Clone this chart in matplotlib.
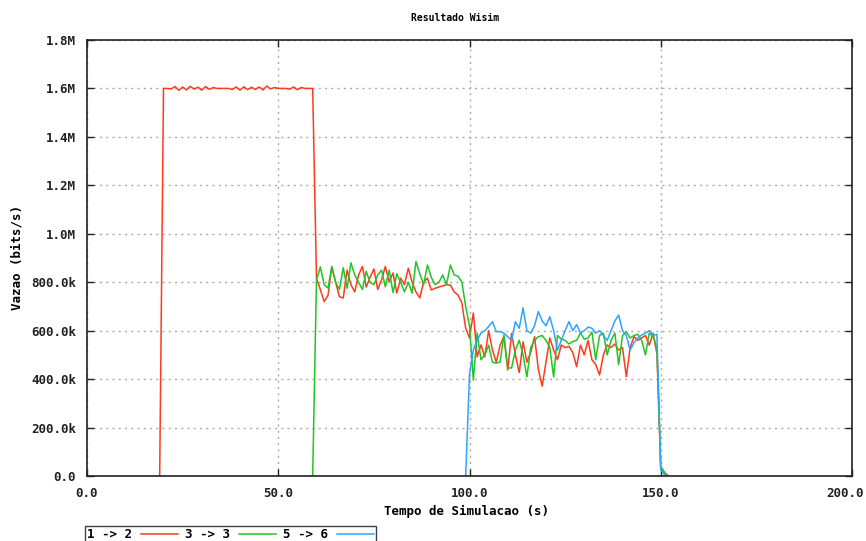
import numpy as np
import matplotlib
matplotlib.use("Agg")
import matplotlib.pyplot as plt
import matplotlib.transforms as mtransforms

# ---------------- data (kbit/s, 1 s sampling) ----------------
series_labels = ["1 -> 2", "3 -> 3", "5 -> 6"]
series_colors = ["#ff3a1e", "#22c522", "#2ea4ff"]

red_start = 19
red_vals = (
    [0]
    + [1600, 1600, 1598, 1608, 1592, 1606, 1594, 1609, 1597, 1605,
       1593, 1608, 1596, 1604, 1600, 1600, 1600, 1600, 1596, 1606,
       1593, 1607, 1595, 1605, 1596, 1606, 1594, 1610, 1598, 1604,
       1600, 1600, 1600, 1597, 1606, 1595, 1604, 1600, 1600, 1600]
    + [815, 770, 720, 745, 865, 800, 740, 735, 850, 790,
       760, 830, 865, 780, 820, 855, 770, 810, 865, 802,
       838, 755, 817, 790, 858, 800, 760, 735, 800, 817,
       768, 775, 780, 785, 790, 788, 760, 747, 714, 610]
    + [570, 673, 492, 541, 492, 600, 520, 470, 540, 575,
       438, 589, 500, 427, 554, 470, 510, 575, 440, 371,
       470, 570, 520, 480, 541, 530, 535, 510, 451, 540,
       500, 560, 480, 460, 417, 500, 541, 530, 545, 520,
       530, 410, 530, 575, 560, 570, 580, 540, 590, 505]
    + [30, 10, 0]
)

green_start = 59
green_vals = (
    [0]
    + [810, 863, 790, 776, 863, 800, 770, 860, 775, 880,
       830, 800, 770, 845, 800, 790, 830, 850, 781, 850,
       757, 835, 800, 760, 800, 755, 885, 835, 790, 871,
       820, 790, 800, 830, 790, 871, 830, 825, 800, 700]
    + [620, 396, 590, 480, 500, 540, 470, 466, 470, 582,
       446, 446, 520, 560, 500, 409, 530, 560, 575, 580,
       560, 530, 409, 580, 565, 560, 545, 555, 560, 590,
       565, 570, 595, 480, 580, 590, 500, 560, 590, 460,
       580, 595, 570, 580, 585, 560, 500, 590, 575, 530]
    + [40, 15, 0]
)

blue_start = 99
blue_vals = (
    [0]
    + [420, 520, 561, 590, 600, 617, 637, 596, 596, 590,
       575, 560, 637, 610, 694, 600, 590, 620, 679, 640,
       620, 658, 600, 520, 560, 600, 637, 600, 625, 590,
       600, 615, 610, 590, 600, 580, 560, 600, 640, 664,
       600, 580, 520, 550, 570, 582, 590, 600, 580, 585]
    + [25, 5, 0]
)

x_ticks = [0, 50, 100, 150, 200]
x_tick_labels = ["0.0", "50.0", "100.0", "150.0", "200.0"]
y_ticks = [0, 200e3, 400e3, 600e3, 800e3, 1.0e6, 1.2e6, 1.4e6, 1.6e6, 1.8e6]
y_tick_labels = ["0.0", "200.0k", "400.0k", "600.0k", "800.0k",
                 "1.0M", "1.2M", "1.4M", "1.6M", "1.8M"]

# ---------------- figure ----------------
W, H = 866, 541
fig = plt.figure(figsize=(W / 100, H / 100), dpi=100)
ax = fig.add_axes([87 / W, 1 - 476 / H, (852 - 87) / W, (476 - 40) / H])

mono = {"family": "DejaVu Sans Mono", "weight": "bold", "size": 9}
mono_small = {"family": "DejaVu Sans Mono", "weight": "bold", "size": 7}

handles = []
for start, vals, lab, col in zip([red_start, green_start, blue_start],
                                 [red_vals, green_vals, blue_vals],
                                 series_labels, series_colors):
    t = start + np.arange(len(vals))
    v = np.asarray(vals, dtype=float) * 1000.0
    ln, = ax.plot(t, v, color=col, lw=1.1, label=lab)
    handles.append(ln)

ax.set_xlim(0, 200)
ax.set_ylim(0, 1.8e6)
ax.set_xticks(x_ticks)
ax.set_xticklabels(x_tick_labels, fontdict=mono)
ax.set_yticks(y_ticks)
ax.set_yticklabels(y_tick_labels, fontdict=mono)
ax.tick_params(direction="in", length=5, width=1, top=True, right=True,
               pad=8, colors="#222222")
ax.grid(True, color="#aaaaaa", linestyle=(0, (1.5, 3)), linewidth=1)
for s in ax.spines.values():
    s.set_color("#222222")
    s.set_linewidth(1.2)

# keep the last x label inside the image, as in the reference
last = ax.get_xticklabels()[-1]
last.set_transform(last.get_transform() +
                   mtransforms.ScaledTranslation(-7 / 100, 0, fig.dpi_scale_trans))

fig.text(455 / W, 1 - 18 / H, "Resultado Wisim", ha="center", va="center",
         fontdict=mono_small)
fig.text(467 / W, 1 - 511 / H, "Tempo de Simulacao (s)", ha="center",
         va="center", fontdict=mono)
fig.text(17 / W, 1 - 258 / H, "Vazao (bits/s)", ha="center", va="center",
         rotation=90, fontdict=mono)

leg = fig.legend(handles=handles, labels=series_labels, loc="upper left",
                 bbox_to_anchor=(85 / W, 1 - 526 / H), ncol=3,
                 markerfirst=False, frameon=True, fancybox=False,
                 borderpad=0.15, handlelength=3.0, handletextpad=0.7,
                 columnspacing=0.55, borderaxespad=0,
                 prop={"family": "DejaVu Sans Mono", "weight": "bold",
                       "size": 9})
leg.get_frame().set_edgecolor("#111111")
leg.get_frame().set_linewidth(1.0)

fig.savefig("out.png", dpi=100)
